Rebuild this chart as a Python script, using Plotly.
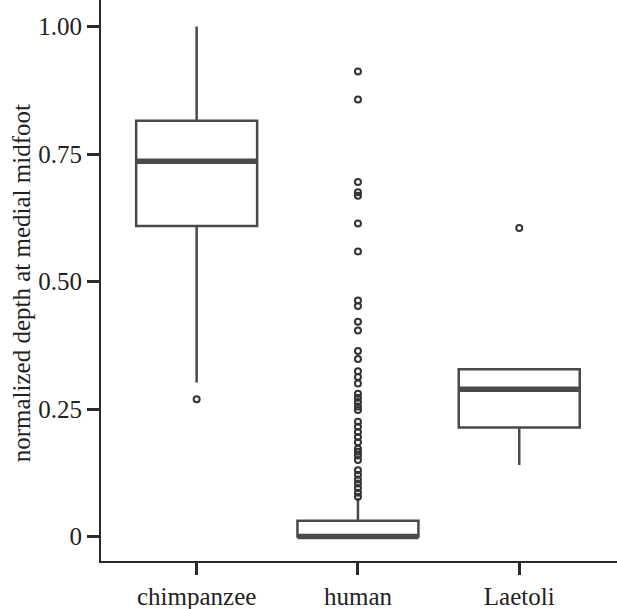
import plotly.graph_objects as go

categories = ["chimpanzee", "human", "Laetoli"]
q1 = [0.609, 0.0, 0.214]
median = [0.736, 0.0, 0.289]
q3 = [0.815, 0.031, 0.328]
lowerfence = [0.302, 0.0, 0.140]
upperfence = [1.0, 0.075, 0.328]

outliers_chimpanzee = [0.269]
outliers_human = [0.912, 0.857, 0.695, 0.675, 0.668, 0.614, 0.559, 0.463, 0.452,
                  0.421, 0.404, 0.364, 0.348, 0.324, 0.313, 0.300, 0.280, 0.272,
                  0.264, 0.255, 0.248, 0.225, 0.215, 0.205, 0.195, 0.185, 0.172,
                  0.166, 0.159, 0.150, 0.130, 0.121, 0.112, 0.104, 0.095, 0.086,
                  0.078]
outliers_laetoli = [0.605]
outliers = [outliers_chimpanzee, outliers_human, outliers_laetoli]

y_tickvals = [0, 0.25, 0.5, 0.75, 1.0]
y_ticktext = ["0", "0.25", "0.50", "0.75", "1.00"]

BOX_W = 0.75
LINE_C = "#4a4a4a"
AX_C = "#2a2a2a"
FONT = "Liberation Serif"

fig = go.Figure()
positions = list(range(len(categories)))
for i, cat in enumerate(categories):
    fig.add_trace(go.Box(
        x=[positions[i]], q1=[q1[i]], median=[median[i]], q3=[q3[i]],
        lowerfence=[lowerfence[i]], upperfence=[upperfence[i]],
        width=BOX_W, whiskerwidth=0, boxpoints=False,
        fillcolor="white", line=dict(color=LINE_C, width=2.5),
        name=cat, showlegend=False, hoverinfo="skip",
    ))
for i, cat in enumerate(categories):
    fig.add_trace(go.Scatter(
        x=[positions[i] - BOX_W / 2, positions[i] + BOX_W / 2],
        y=[median[i], median[i]], mode="lines",
        line=dict(color=LINE_C, width=5.5), showlegend=False, hoverinfo="skip",
    ))
for i, cat in enumerate(categories):
    fig.add_trace(go.Scatter(
        x=[positions[i]] * len(outliers[i]), y=outliers[i], mode="markers",
        marker=dict(symbol="circle-open", size=6, color="#333333",
                    line=dict(width=2, color="#333333")),
        showlegend=False, hoverinfo="skip", cliponaxis=False,
    ))

fig.update_layout(
    width=617, height=609,
    margin=dict(l=101, r=0, t=0, b=48, autoexpand=False),
    paper_bgcolor="white", plot_bgcolor="white",
    font=dict(family=FONT, size=25, color="#222222"),
    xaxis=dict(
        range=[-0.593, 2.606], tickvals=positions, ticktext=categories,
        showgrid=False, zeroline=False, showline=True, linecolor=AX_C, linewidth=2,
        ticks="outside", ticklen=12, tickwidth=2.5, tickcolor=AX_C,
        tickfont=dict(family=FONT, size=25, color="#222222"), automargin=False,
    ),
    yaxis=dict(
        range=[-0.048, 1.052], tickvals=y_tickvals, ticktext=y_ticktext,
        showgrid=False, zeroline=False, showline=True, linecolor=AX_C, linewidth=2,
        ticks="outside", ticklen=12, tickwidth=2.5, tickcolor=AX_C,
        tickfont=dict(family=FONT, size=25, color="#222222"), automargin=False,
    ),
    annotations=[dict(
        text="normalized depth at medial midfoot", textangle=-90,
        x=0, xref="paper", xanchor="center", xshift=-80,
        y=0.495, yref="paper", yanchor="middle", showarrow=False,
        font=dict(family=FONT, size=25, color="#222222"),
    )],
)

fig.write_html(
    "out.html",
    config={"displayModeBar": False},
    post_script="document.body.style.margin='0';document.body.style.overflow='hidden';",
)
